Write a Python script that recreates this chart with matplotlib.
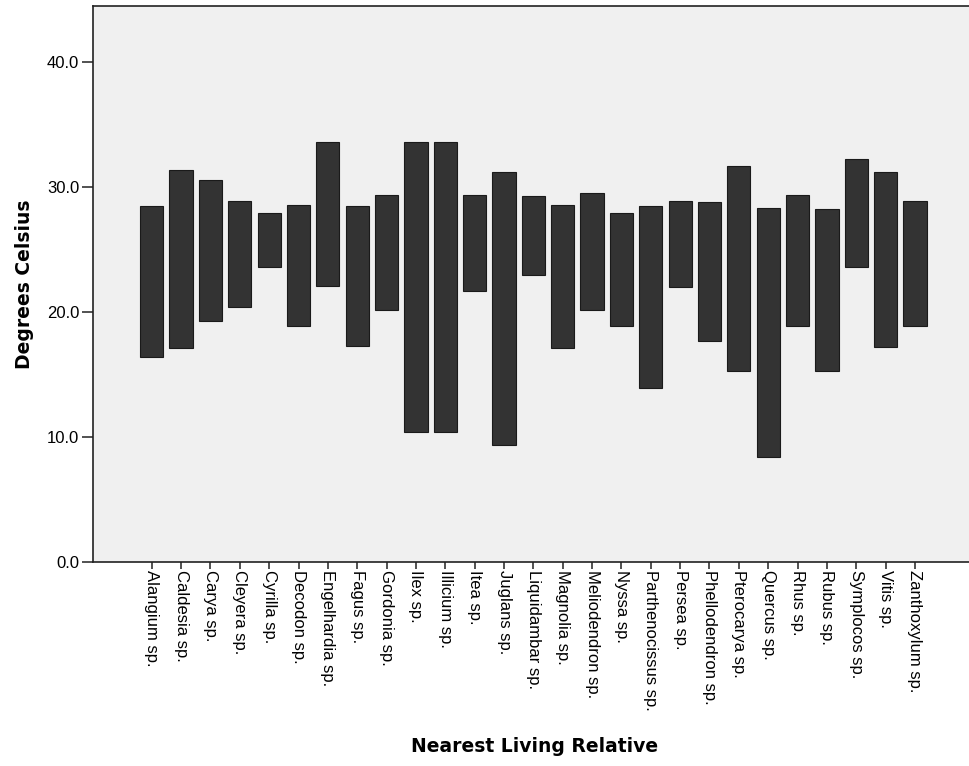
import numpy as np
import matplotlib
matplotlib.use("Agg")
import matplotlib.pyplot as plt

# === Data ===
taxa = [
    "Alangium sp.", "Caldesia sp.", "Carya sp.", "Cleyera sp.", "Cyrilla sp.",
    "Decodon sp.", "Engelhardia sp.", "Fagus sp.", "Gordonia sp.", "Ilex sp.",
    "Illicium sp.", "Itea sp.", "Juglans sp.", "Liquidambar sp.", "Magnolia sp.",
    "Meliodendron sp.", "Nyssa sp.", "Parthenocissus sp.", "Persea sp.",
    "Phellodendron sp.", "Pterocarya sp.", "Quercus sp.", "Rhus sp.", "Rubus sp.",
    "Symplocos sp.", "Vitis sp.", "Zanthoxylum sp.",
]
t_low = [16.4, 17.1, 19.3, 20.4, 23.6, 18.9, 22.1, 17.3, 20.2, 10.4,
         10.4, 21.7, 9.4, 23.0, 17.1, 20.2, 18.9, 13.9, 22.0,
         17.7, 15.3, 8.4, 18.9, 15.3, 23.6, 17.2, 18.9]
t_high = [28.5, 31.4, 30.6, 28.9, 27.9, 28.6, 33.6, 28.5, 29.4, 33.6,
          33.6, 29.4, 31.25, 29.3, 28.6, 29.5, 27.9, 28.5, 28.9,
          28.8, 31.7, 28.35, 29.4, 28.24, 32.24, 31.25, 28.9]

# === Figure ===
fig = plt.figure(figsize=(9.69, 7.66), dpi=100)
ax = fig.add_axes([0.096, 0.2663, 0.904, 0.7259])
ax.set_facecolor("#f0f0f0")

x = np.arange(len(taxa))
low = np.array(t_low)
high = np.array(t_high)
ax.bar(x, high - low, bottom=low, width=0.79, color="#333333",
       edgecolor="#1a1a1a", linewidth=0.8, zorder=2)

ax.set_xlim(-2.0, len(taxa) + 0.84)
ax.set_ylim(0, 44.5)
ax.set_yticks([0, 10, 20, 30, 40])
ax.set_yticklabels(["0.0", "10.0", "20.0", "30.0", "40.0"],
                   fontfamily="Liberation Sans", fontsize=12)
ax.set_xticks(x)
ax.set_xticklabels(taxa, rotation=-90, ha="center", va="top",
                   fontfamily="Liberation Sans", fontsize=12)

ax.tick_params(axis="y", length=8, width=1.2, pad=2, color="#333333")
ax.tick_params(axis="x", length=5, width=1.2, pad=1, color="#333333")

for side in ["left", "bottom", "top"]:
    ax.spines[side].set_linewidth(1.2)
    ax.spines[side].set_color("#222222")
ax.spines["right"].set_visible(False)

ax.set_ylabel("Degrees Celsius", fontfamily="DejaVu Sans", fontweight="bold",
              fontsize=13.5)
ax.yaxis.set_label_coords(-0.067, 0.5)
fig.text(0.5516, 1 - 747 / 766, "Nearest Living Relative", ha="center", va="center",
         fontfamily="DejaVu Sans", fontweight="bold", fontsize=13.5)

fig.savefig("out.png", dpi=100)
